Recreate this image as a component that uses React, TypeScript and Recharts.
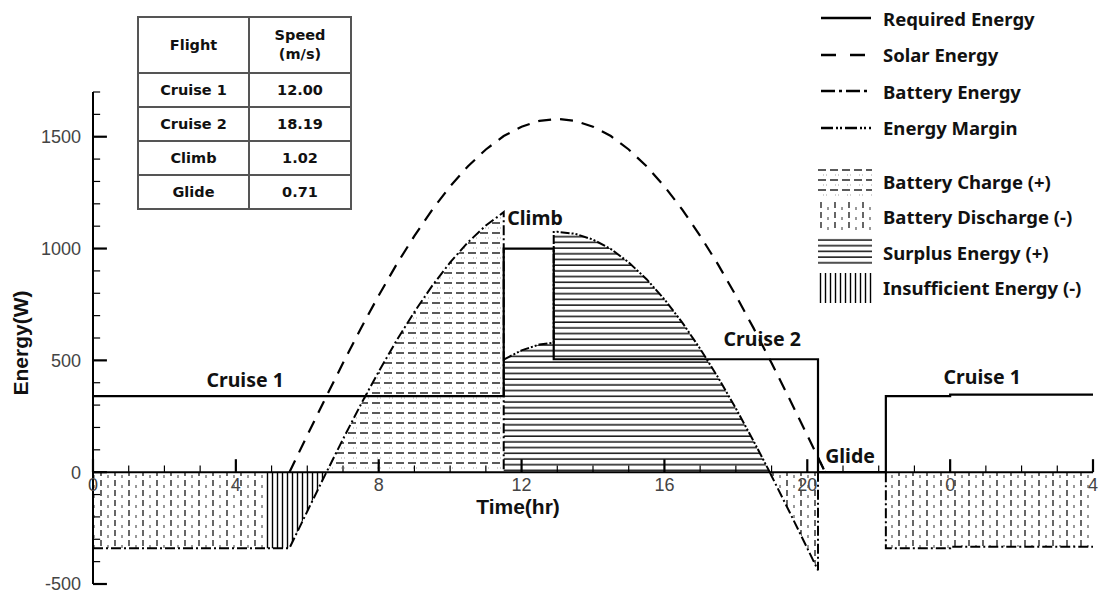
import React from 'react';
import { ComposedChart, Line, Area, XAxis, YAxis, ReferenceLine, ReferenceDot } from 'recharts';

// ---------- data ----------
const solarHours = [5.5, 6, 6.5, 7, 7.5, 8, 8.5, 9, 9.5, 10, 10.5, 11, 11.5, 12, 12.5, 13, 13.5, 14, 14.5, 15, 15.5, 16, 16.5, 17, 17.5, 18, 18.5, 19, 19.5, 20, 20.5];
const solarWatts = [0, 165, 328, 488, 643, 790, 929, 1057, 1174, 1278, 1368, 1443, 1503, 1545, 1571, 1580, 1571, 1545, 1503, 1443, 1368, 1278, 1174, 1057, 929, 790, 643, 488, 328, 165, 0];

const requiredHours = [0, 11.5, 11.5, 12.9, 12.9, 20.3, 20.3, 22.2, 22.2, 24, 24, 28];
const requiredWatts = [340, 340, 1000, 1000, 505, 505, 0, 0, 340, 340, 347, 347];

const batteryHours = [0, 5.5, 6, 6.5, 7, 7.5, 8, 8.5, 9, 9.5, 10, 10.5, 11, 11.5, 11.5, 11.5, 18.95, 19, 19.5, 20, 20.3, 20.3, 20.3, 22.2, 22.2, 24, 24, 28];
const batteryWatts = [-340, -340, -175, -12, 148, 303, 450, 589, 717, 834, 938, 1028, 1103, 1163, 0, null, 0, -17, -177, -340, -439, 0, null, 0, -340, -340, -333, -333];

const marginHours = [11.5, 12, 12.5, 12.9, 12.9, 13, 13.5, 14, 14.5, 15, 15.5, 16, 16.5, 17, 17.5, 18, 18.5, 18.95, 18.95, 20.3, 20.3, 20.5];
const marginWatts = [503, 545, 571, 579, 1074, 1075, 1066, 1040, 998, 938, 863, 773, 669, 552, 424, 285, 138, 0, null, 0, 66, 0];

const chargeHours = [6.54, 7, 7.5, 8, 8.5, 9, 9.5, 10, 10.5, 11, 11.5];
const chargeWatts = [0, 148, 303, 450, 589, 717, 834, 938, 1028, 1103, 1163];

const surplusHours = [11.5, 12, 12.5, 12.9, 12.9, 13, 13.5, 14, 14.5, 15, 15.5, 16, 16.5, 17, 17.5, 18, 18.5, 18.95];
const surplusWatts = [503, 545, 571, 579, 1074, 1075, 1066, 1040, 998, 938, 863, 773, 669, 552, 424, 285, 138, 0];

const insufficientHours = [4.8, 5.5, 6, 6.5, 6.54];
const insufficientWatts = [-340, -340, -175, -12, 0];

const dischargeNightHours = [0, 4.8];
const dischargeNightWatts = [-340, -340];
const dischargeDuskHours = [18.95, 19, 19.5, 20, 20.3];
const dischargeDuskWatts = [0, -17, -177, -340, -439];
const dischargeLateHours = [22.2, 24, 24, 28];
const dischargeLateWatts = [-340, -340, -333, -333];

// axis ticks
const yLabelTicks = [-500, 0, 500, 1000, 1500];
const yMinorTicks = [-400, -300, -200, -100, 100, 200, 300, 400, 600, 700, 800, 900, 1100, 1200, 1300, 1400, 1600, 1700];
const xMajorTicks = [0, 4, 8, 12, 16, 20, 24, 28];
const xTickLabels = ['0', '4', '8', '12', '16', '20', '0', '4'];
const xMinorTicks = [1, 2, 3, 5, 6, 7, 9, 10, 11, 13, 14, 15, 17, 18, 19, 21, 22, 23, 25, 26, 27];

// phase labels
const phaseNames = ['Cruise 1', 'Climb', 'Cruise 2', 'Glide', 'Cruise 1'];
const phaseHours = [4.26, 11.6, 18.74, 20.5, 24.9];
const phaseWatts = [411, 1135, 594, 71, 424];
const phaseAnchors = ['center', 'right', 'center', 'right', 'center'];

// table
const tableHeader = ['Flight', 'Speed\n(m/s)'];
const flightModes = ['Cruise 1', 'Cruise 2', 'Climb', 'Glide'];
const flightSpeeds = ['12.00', '18.19', '1.02', '0.71'];

// legend
const lineLegendNames = ['Required Energy', 'Solar Energy', 'Battery Energy', 'Energy Margin'];
const lineLegendDashes = ['', '15 14', '14 4 3 4', '12 3 2 2 2 3'];
const fillLegendNames = ['Battery Charge (+)', 'Battery Discharge (-)', 'Surplus Energy (+)', 'Insufficient Energy (-)'];
const fillLegendPatterns = ['patCharge', 'patDischarge', 'patSurplus', 'patInsufficient'];

const zip = (hours: number[], watts: (number | null)[]) => hours.map((t, i) => ({ t, w: watts[i] }));

const labelFont = '"Noto Sans", "Open Sans", sans-serif';
const tickFont = '"Liberation Sans", Arial, sans-serif';

export default function App() {
  const areas = [
    { id: 'charge', data: zip(chargeHours, chargeWatts), pat: 'patCharge' },
    { id: 'surplus', data: zip(surplusHours, surplusWatts), pat: 'patSurplus' },
    { id: 'insuff', data: zip(insufficientHours, insufficientWatts), pat: 'patInsufficient' },
    { id: 'dn', data: zip(dischargeNightHours, dischargeNightWatts), pat: 'patDischarge' },
    { id: 'dd', data: zip(dischargeDuskHours, dischargeDuskWatts), pat: 'patDischarge' },
    { id: 'dl', data: zip(dischargeLateHours, dischargeLateWatts), pat: 'patDischarge' },
  ];
  return (
    <div style={{ position: 'absolute', left: 0, top: 0, width: 1106, height: 596, background: '#fff' }}>
      <ComposedChart width={1106} height={596} margin={{ top: 92, right: 13, bottom: 12, left: 0 }}>
        <defs>
          <pattern id="patCharge" patternUnits="userSpaceOnUse" width="12" height="10">
            <line x1="0" y1="3" x2="8" y2="3" stroke="#000" strokeWidth="1.3" />
            <line x1="5" y1="8" x2="11" y2="8" stroke="#999" strokeWidth="0.9" strokeDasharray="1 2" />
          </pattern>
          <pattern id="patDischarge" patternUnits="userSpaceOnUse" width="14" height="10">
            <line x1="3" y1="0" x2="3" y2="6" stroke="#000" strokeWidth="1.2" />
            <line x1="10" y1="5" x2="10" y2="8" stroke="#444" strokeWidth="1.1" />
          </pattern>
          <pattern id="patSurplus" patternUnits="userSpaceOnUse" width="10" height="5.7">
            <line x1="0" y1="3" x2="10" y2="3" stroke="#000" strokeWidth="1.4" />
          </pattern>
          <pattern id="patInsufficient" patternUnits="userSpaceOnUse" width="5" height="10">
            <line x1="2.5" y1="0" x2="2.5" y2="10" stroke="#000" strokeWidth="1.4" />
          </pattern>
        </defs>
        <XAxis type="number" dataKey="t" domain={[0, 28]} hide allowDataOverflow />
        <YAxis
          type="number"
          domain={[-500, 1700]}
          ticks={yLabelTicks}
          interval={0}
          width={93}
          tickLine={false}
          tickMargin={6}
          axisLine={{ stroke: '#000', strokeWidth: 2 }}
          tick={{ fill: '#444', fontSize: 18, fontFamily: tickFont }}
          allowDataOverflow
        />
        {areas.map((a) => (
          <Area
            key={a.id}
            data={a.data}
            dataKey="w"
            type="linear"
            baseValue={0}
            stroke="none"
            fill={`url(#${a.pat})`}
            fillOpacity={1}
            isAnimationActive={false}
            dot={false}
            activeDot={false}
          />
        ))}
        <Line data={zip(requiredHours, requiredWatts)} dataKey="w" type="linear" stroke="#000" strokeWidth={2.2} dot={false} activeDot={false} isAnimationActive={false} />
        <Line data={zip(solarHours, solarWatts)} dataKey="w" type="linear" stroke="#000" strokeWidth={2.2} strokeDasharray="13 9" dot={false} activeDot={false} isAnimationActive={false} />
        <Line data={zip(batteryHours, batteryWatts)} dataKey="w" type="linear" stroke="#000" strokeWidth={2} strokeDasharray="10 3 2 3" dot={false} activeDot={false} isAnimationActive={false} />
        <Line data={zip(marginHours, marginWatts)} dataKey="w" type="linear" stroke="#000" strokeWidth={2} strokeDasharray="9 2 2 2 2 2" dot={false} activeDot={false} isAnimationActive={false} />

        <ReferenceLine y={0} stroke="#000" strokeWidth={2} />
        {yLabelTicks.map((v) => (
          <ReferenceLine key={'ym' + v} segment={[{ x: 0, y: v }, { x: 0.39, y: v }]} stroke="#000" strokeWidth={2.2} />
        ))}
        {yMinorTicks.map((v) => (
          <ReferenceLine key={'yn' + v} segment={[{ x: 0, y: v }, { x: 0.2, y: v }]} stroke="#000" strokeWidth={1.2} />
        ))}
        {xMajorTicks.map((t) => (
          <ReferenceLine key={'xm' + t} segment={[{ x: t, y: 0 }, { x: t, y: 58 }]} stroke="#000" strokeWidth={2.2} />
        ))}
        {xMinorTicks.map((t) => (
          <ReferenceLine key={'xn' + t} segment={[{ x: t, y: 0 }, { x: t, y: 30 }]} stroke="#000" strokeWidth={1.2} />
        ))}
        {xMajorTicks.map((t, i) => (
          <ReferenceDot
            key={'xl' + t}
            x={t}
            y={-56}
            r={0}
            stroke="none"
            fill="none"
            label={{ value: xTickLabels[i], position: 'center', fill: '#444', fontSize: 18, fontFamily: tickFont }}
          />
        ))}
        <ReferenceDot
          x={11.9}
          y={-152}
          r={0}
          stroke="none"
          fill="none"
          label={{ value: 'Time(hr)', position: 'center', fill: '#111', fontSize: 21, fontWeight: 700, fontFamily: tickFont }}
        />
        {phaseNames.map((n, i) => (
          <ReferenceDot
            key={'ph' + i}
            x={phaseHours[i]}
            y={phaseWatts[i]}
            r={0}
            stroke="none"
            fill="none"
            label={{ value: n, position: phaseAnchors[i], offset: 0, fill: '#111', fontSize: 19.5, fontWeight: 700, fontFamily: labelFont }}
          />
        ))}
      </ComposedChart>

      <div
        style={{
          position: 'absolute',
          left: 21,
          top: 343,
          transform: 'translate(-50%, -50%) rotate(-90deg)',
          whiteSpace: 'nowrap',
          fontFamily: tickFont,
          fontWeight: 700,
          fontSize: 21,
          color: '#111',
        }}
      >
        Energy(W)
      </div>

      <table
        style={{
          position: 'absolute',
          left: 137,
          top: 16,
          borderCollapse: 'collapse',
          fontFamily: '"DejaVu Sans", Verdana, sans-serif',
          fontWeight: 700,
          fontSize: 14.5,
          color: '#111',
          textAlign: 'center',
        }}
      >
        <tbody>
          <tr style={{ height: 56 }}>
            {tableHeader.map((h, i) => (
              <td key={h} style={{ border: '2px solid #555', width: i === 0 ? 109 : 100, padding: 0, whiteSpace: 'pre-line', lineHeight: '19px' }}>
                {h}
              </td>
            ))}
          </tr>
          {flightModes.map((m, i) => (
            <tr key={m} style={{ height: 34 }}>
              <td style={{ border: '2px solid #555', padding: 0 }}>{m}</td>
              <td style={{ border: '2px solid #555', padding: 0 }}>{flightSpeeds[i]}</td>
            </tr>
          ))}
        </tbody>
      </table>

      <div style={{ position: 'absolute', left: 818, top: 0, fontFamily: labelFont, fontWeight: 700, fontSize: 18.5, color: '#111' }}>
        {lineLegendNames.map((n, i) => (
          <div key={n} style={{ height: 36.5, display: 'flex', alignItems: 'center' }}>
            <svg width={54} height={10} style={{ marginRight: 11 }}>
              <line x1={3} y1={5} x2={53} y2={5} stroke="#000" strokeWidth={2.6} strokeDasharray={lineLegendDashes[i] || undefined} />
            </svg>
            <span>{n}</span>
          </div>
        ))}
      </div>
      <div style={{ position: 'absolute', left: 818, top: 164, fontFamily: labelFont, fontWeight: 700, fontSize: 18.5, color: '#111' }}>
        {fillLegendNames.map((n, i) => (
          <div key={n} style={{ height: 35.3, display: 'flex', alignItems: 'center' }}>
            <svg width={54} height={30} style={{ marginRight: 11 }}>
              <rect x={0} y={0} width={54} height={30} fill={`url(#${fillLegendPatterns[i]})`} />
            </svg>
            <span>{n}</span>
          </div>
        ))}
      </div>
    </div>
  );
}
